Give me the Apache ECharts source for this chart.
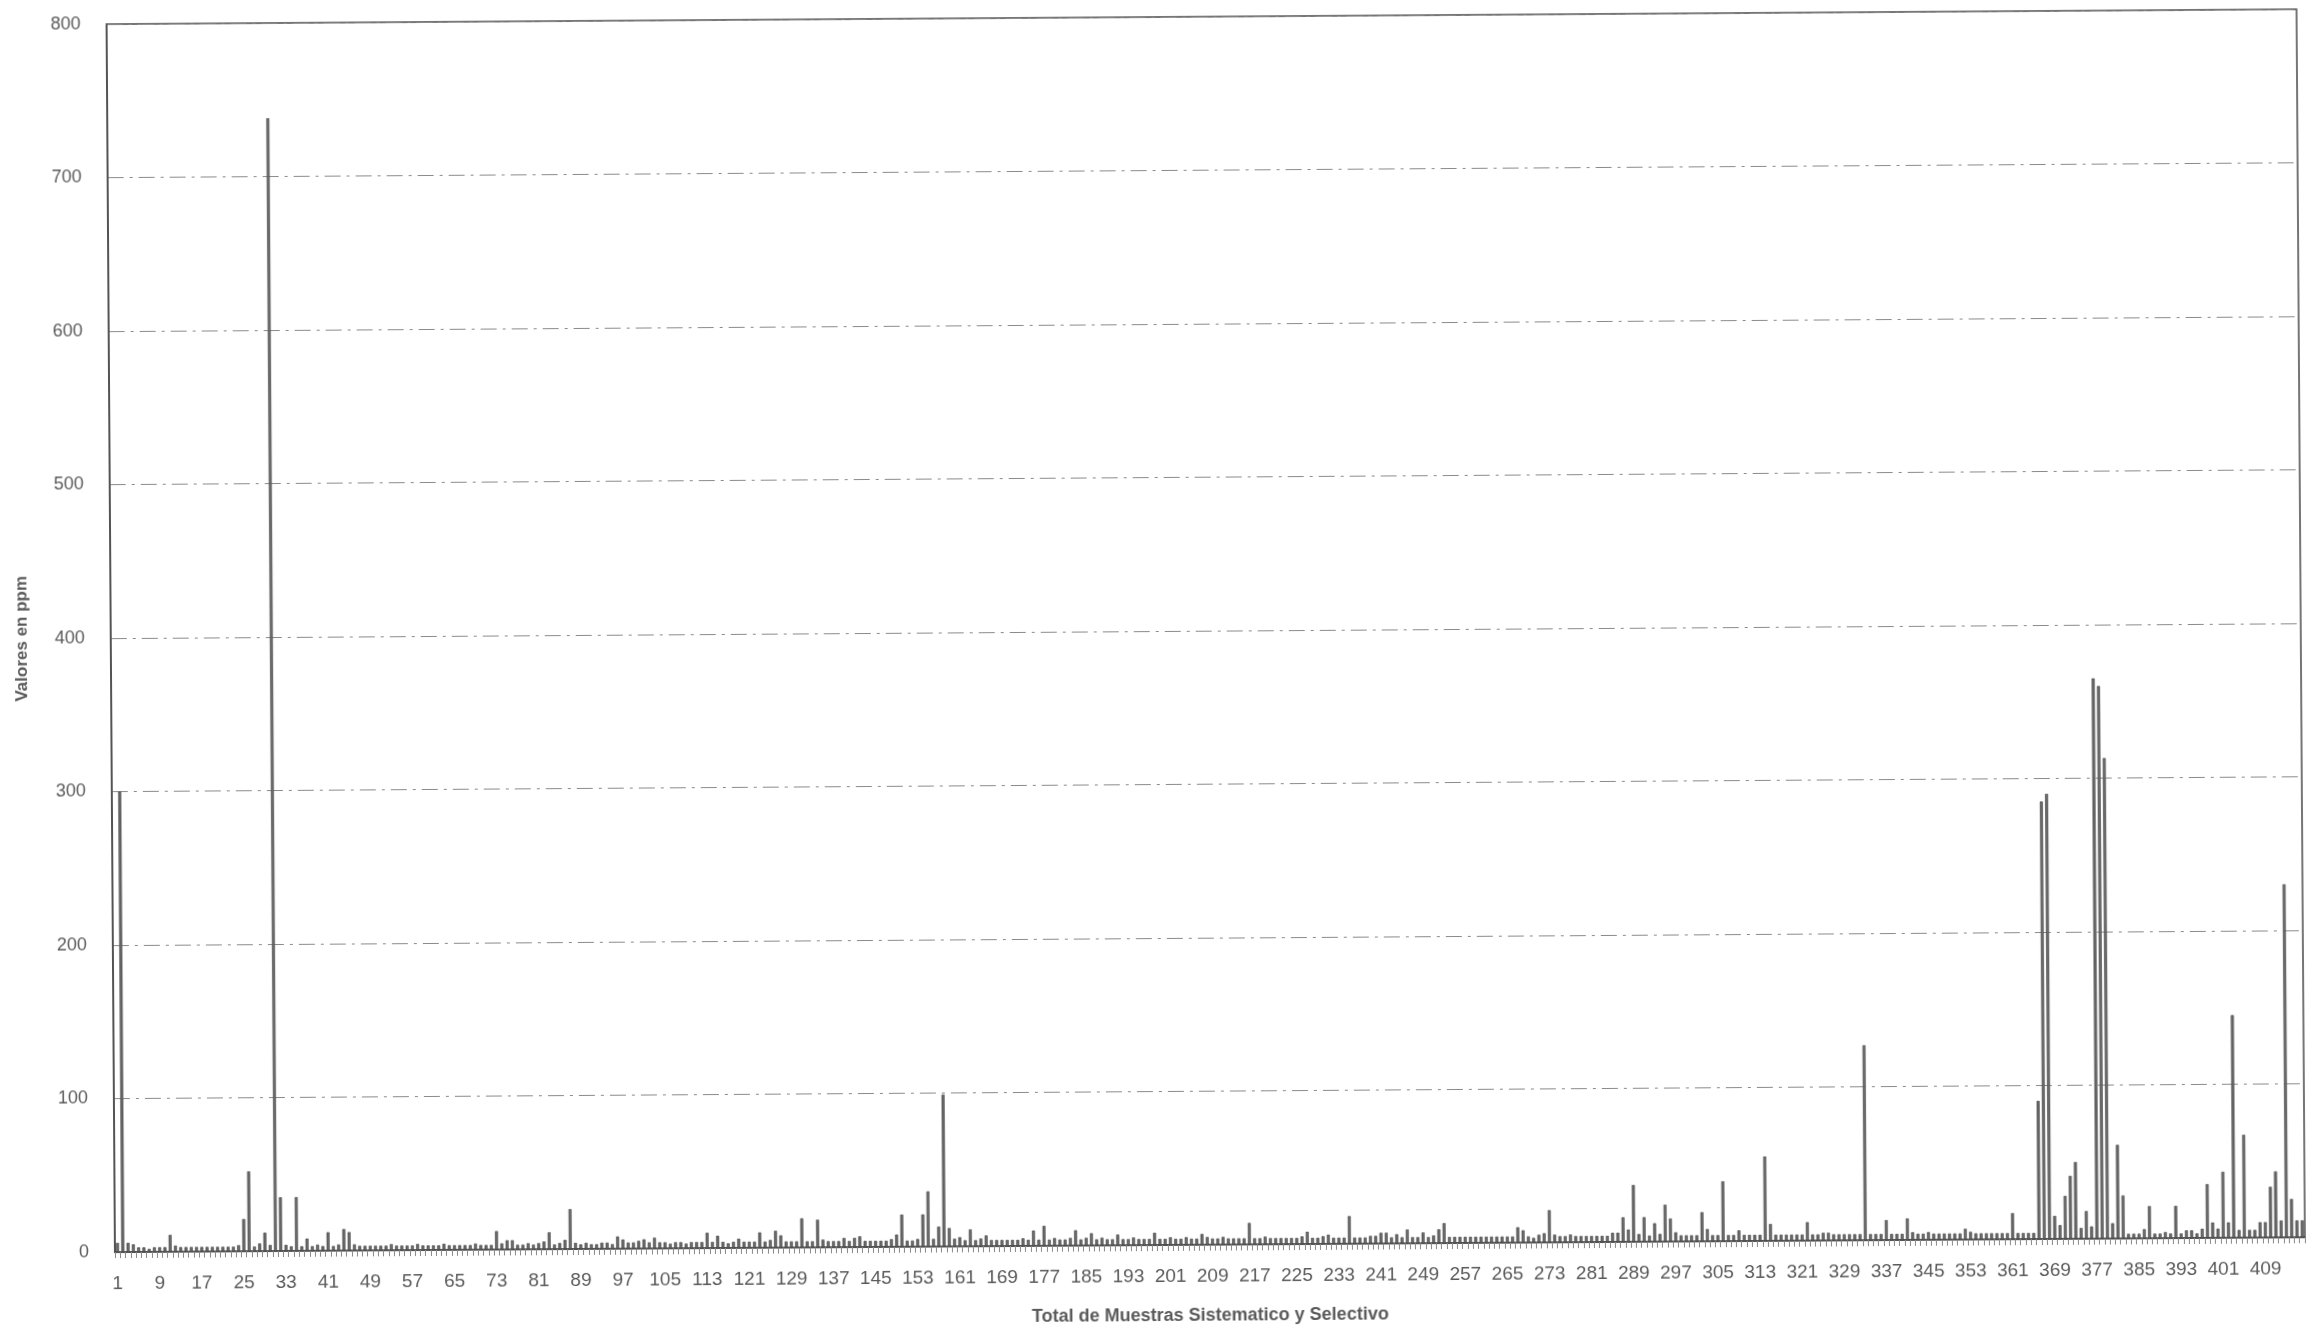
<!DOCTYPE html>
<html>
<head>
<meta charset="utf-8">
<script src="https://cdn.jsdelivr.net/npm/echarts@6/dist/echarts.min.js"></script>
<style>
  html, body { margin: 0; padding: 0; background: #ffffff; }
  #chart { width: 2324px; height: 1339px; transform: rotate(-0.39deg); transform-origin: 50% 50%; }
</style>
</head>
<body>
<div id="chart"></div>
<script>
// Number of samples (category axis 1..N)
const sampleCount = 416;
const categories = [];
for (let i = 1; i <= sampleCount; i++) categories.push(String(i));

// Values en ppm, 8 per row (rows start at 1, 9, 17, ...)
const values = [
  6,300,6,5,3,3,2,3,
  3,3,11,4,3,3,3,3,
  3,3,3,3,3,3,3,4,
  21,52,3,5,12,4,738,35,
  4,3,35,3,8,3,4,3,
  12,3,4,14,12,4,3,3,
  3,3,3,3,4,3,3,3,
  3,4,3,3,3,3,4,3,
  3,3,3,3,4,3,3,3,
  12,4,6,6,3,3,4,3,
  4,5,11,3,4,6,26,4,
  3,4,3,3,4,4,3,8,
  6,4,4,5,6,4,7,4,
  4,3,4,4,3,4,4,4,
  10,4,8,4,3,4,6,4,
  4,4,10,4,5,11,8,4,
  4,4,19,4,4,18,5,4,
  4,4,6,4,6,7,4,4,
  4,4,4,5,8,21,4,4,
  5,21,36,5,13,99,12,5,
  6,4,11,4,5,7,4,4,
  4,4,4,4,5,4,10,4,
  13,4,5,4,4,5,10,4,
  5,8,4,5,4,4,7,4,
  4,5,4,4,4,8,4,4,
  5,4,4,5,4,4,7,5,
  4,4,5,4,4,4,4,14,
  4,4,5,4,4,4,4,4,
  4,5,8,4,4,5,6,4,
  4,4,18,4,4,4,5,5,
  7,7,4,6,4,9,4,4,
  7,4,5,9,13,4,4,4,
  4,4,4,4,4,4,4,4,
  4,4,10,8,4,3,5,6,
  21,5,4,4,5,4,4,4,
  4,4,4,4,6,6,16,8,
  37,5,16,4,12,5,24,15,
  6,4,4,4,4,19,8,4,
  4,39,4,4,7,4,4,4,
  4,55,11,4,4,4,4,4,
  4,12,4,4,5,5,4,4,
  4,4,4,4,127,4,4,4,
  13,4,4,4,14,5,4,4,
  5,4,4,4,4,4,4,7,
  5,4,4,4,4,4,4,4,
  17,4,4,4,4,90,285,290,
  15,9,28,41,50,7,18,8,
  365,360,313,10,61,28,3,3,
  3,6,21,3,3,4,3,21,
  3,5,5,3,6,35,10,6,
  43,10,145,5,67,5,5,10,
  10,33,43,11,230,25,11,11
];

const yTicks = [0, 100, 200, 300, 400, 500, 600, 700, 800];
const xAxisTitle = 'Total de Muestras Sistematico y Selectivo';
const yAxisTitle = 'Valores en ppm';

const chart = echarts.init(document.getElementById('chart'), null, { renderer: 'canvas' });
const textColor = '#5a5a5a';
const font = "'Liberation Sans', Arial, sans-serif";

chart.setOption({
  animation: false,
  backgroundColor: '#ffffff',
  grid: {
    left: 111, top: 17, width: 2190, height: 1228,
    show: true, borderColor: '#4a4a4a', borderWidth: 1.5, backgroundColor: 'transparent'
  },
  xAxis: {
    type: 'category',
    data: categories,
    boundaryGap: true,
    name: xAxisTitle,
    nameLocation: 'middle',
    nameGap: 62,
    nameTextStyle: { fontFamily: font, fontSize: 18, fontWeight: 'bold', color: textColor },
    axisLine: { show: true, lineStyle: { color: '#4a4a4a', width: 1.5 } },
    axisTick: { show: true, interval: 0, length: 6, lineStyle: { color: '#888888', width: 1 } },
    axisLabel: { interval: 7, fontFamily: font, fontSize: 19, color: textColor, margin: 22 },
    splitLine: { show: false }
  },
  yAxis: {
    type: 'value',
    min: yTicks[0],
    max: yTicks[yTicks.length - 1],
    interval: 100,
    name: yAxisTitle,
    nameLocation: 'middle',
    nameGap: 80,
    nameRotate: 90,
    nameTextStyle: { fontFamily: font, fontSize: 17, fontWeight: 'bold', color: textColor },
    axisLine: { show: true, lineStyle: { color: '#4a4a4a', width: 1.5 } },
    axisTick: { show: false },
    axisLabel: { fontFamily: font, fontSize: 18, color: textColor, margin: 26 },
    splitLine: { show: true, lineStyle: { color: '#8a8a8a', width: 1, type: [16, 6, 3, 6] } }
  },
  series: [{
    type: 'bar',
    data: values,
    barWidth: 3,
    itemStyle: { color: '#6a6a6a', borderColor: '#444444', borderWidth: 0.6 }
  }]
});
</script>
</body>
</html>
